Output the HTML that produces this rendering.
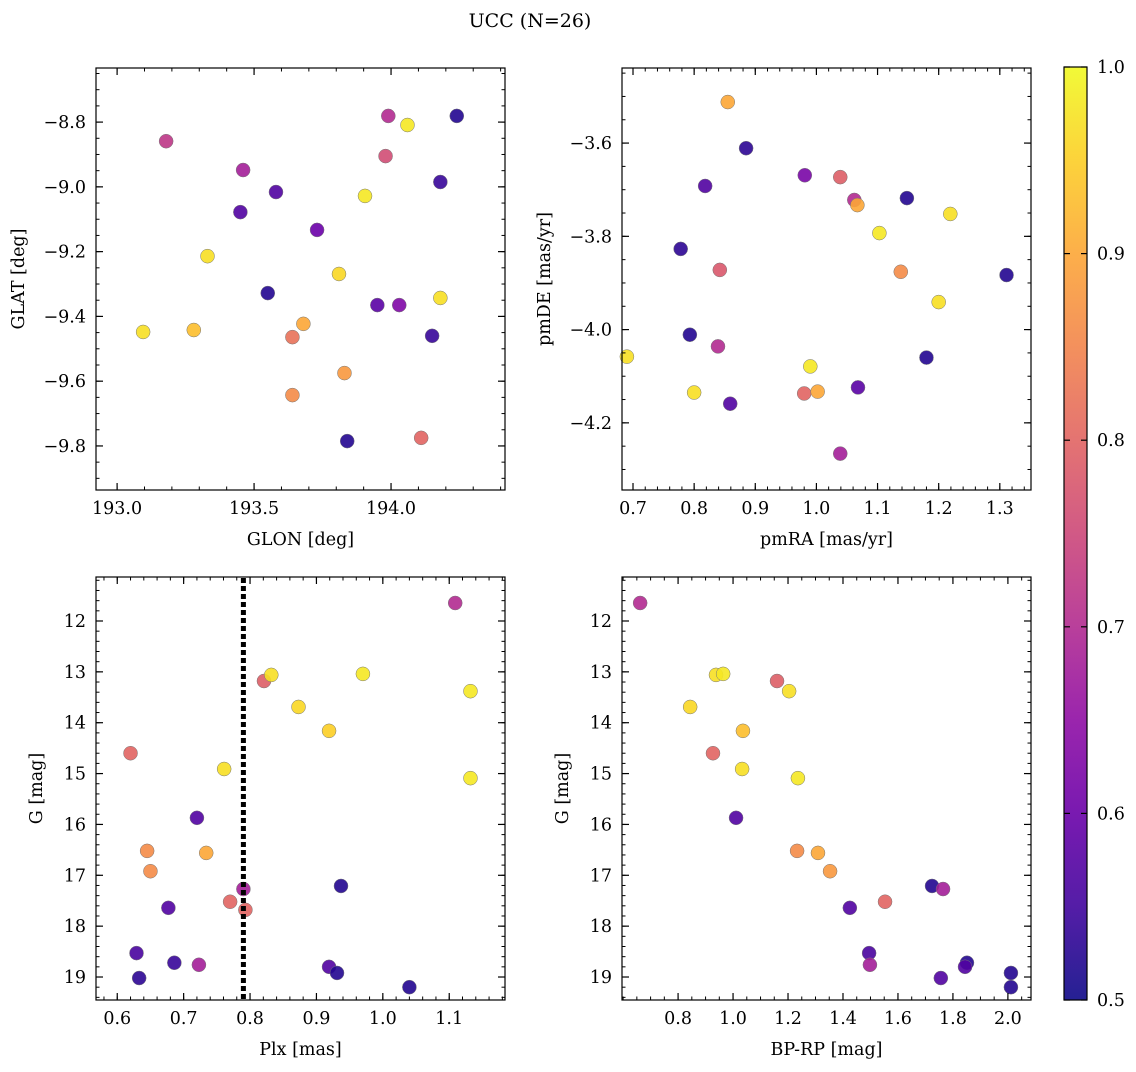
<!DOCTYPE html>
<html><head><meta charset="utf-8">
<style>
html,body{margin:0;padding:0;background:#fff;}
svg text{font-family:"DejaVu Serif","Liberation Serif",serif;fill:#000;}
</style></head>
<body>
<svg id="fig" width="1136" height="1067" viewBox="0 0 1136 1067" xmlns="http://www.w3.org/2000/svg">
<defs>
<linearGradient id="plasma" x1="0" y1="1" x2="0" y2="0">
<stop offset="0" stop-color="#cc4778"/>
</linearGradient>
</defs>
<text x="530" y="27" font-size="19" text-anchor="middle">UCC (N=26)</text>
</svg>
<script>
// ---- data: top-left (GLON vs GLAT)
const tlGlon=[193.179,193.46,193.58,193.45,193.33,193.095,193.28,193.55,193.73,193.68,193.64,193.64,193.81,193.83,193.84,193.905,193.95,194.03,193.99,193.98,194.06,194.11,194.18,194.18,194.15,194.24];
const tlGlat=[-8.859,-8.948,-9.016,-9.078,-9.214,-9.448,-9.442,-9.328,-9.133,-9.423,-9.464,-9.643,-9.269,-9.575,-9.785,-9.028,-9.365,-9.365,-8.781,-8.905,-8.809,-9.775,-8.985,-9.343,-9.46,-8.781];
const tlProb=[0.72,0.68,0.57,0.57,0.97,0.97,0.93,0.52,0.6,0.9,0.82,0.86,0.96,0.88,0.52,0.98,0.58,0.63,0.7,0.76,0.98,0.8,0.54,0.97,0.54,0.52];
// ---- top-right (pmRA vs pmDE)
const trPmra=[0.855,0.885,0.818,0.981,1.039,1.062,1.067,1.148,1.219,1.103,0.778,0.842,1.138,1.311,1.2,0.793,0.839,0.69,0.99,1.18,0.8,0.98,1.002,1.068,0.859,1.039];
const trPmde=[-3.512,-3.611,-3.692,-3.669,-3.673,-3.722,-3.733,-3.718,-3.752,-3.793,-3.827,-3.872,-3.876,-3.883,-3.941,-4.011,-4.036,-4.058,-4.079,-4.06,-4.135,-4.137,-4.133,-4.124,-4.159,-4.266];
const trProb=[0.9,0.53,0.57,0.62,0.79,0.7,0.9,0.52,0.97,0.98,0.53,0.78,0.86,0.52,0.97,0.52,0.7,0.97,0.98,0.52,0.97,0.8,0.9,0.58,0.57,0.68];
// ---- bottom-left (Plx vs G)
const blPlx=[1.109,0.821,0.832,0.970,1.132,0.873,0.919,0.761,1.132,0.620,0.72,0.645,0.734,0.65,0.79,0.937,0.77,0.793,0.677,0.629,0.633,0.686,0.723,0.919,0.931,1.04];
const blG=[11.646,13.18,13.06,13.04,13.38,13.69,14.16,14.91,15.09,14.6,15.87,16.52,16.56,16.92,17.27,17.21,17.52,17.68,17.64,18.53,19.02,18.72,18.76,18.8,18.92,19.2];
const blProb=[0.7,0.79,0.97,0.98,0.98,0.96,0.95,0.97,0.98,0.8,0.57,0.86,0.9,0.86,0.68,0.52,0.8,0.8,0.57,0.56,0.53,0.54,0.68,0.57,0.52,0.52];
const plxLine=0.79;
// ---- bottom-right (BP-RP vs G)
const brBprp=[0.662,0.938,0.964,1.16,1.204,0.844,1.036,0.927,1.033,1.236,1.011,1.233,1.309,1.353,1.724,1.764,1.553,1.425,1.495,1.498,1.756,1.851,1.844,2.011,2.011];
const brG=[11.646,13.06,13.04,13.18,13.38,13.69,14.16,14.6,14.91,15.09,15.87,16.52,16.56,16.92,17.21,17.27,17.52,17.64,18.53,18.76,19.02,18.72,18.8,18.92,19.2];
const brProb=[0.7,0.97,0.98,0.79,0.97,0.96,0.93,0.8,0.97,0.98,0.57,0.86,0.9,0.88,0.52,0.68,0.8,0.57,0.56,0.68,0.57,0.52,0.57,0.52,0.52];
// ---- tick labels
const tlXTicks=[193.0,193.5,194.0];
const tlYTicks=[-8.8,-9.0,-9.2,-9.4,-9.6,-9.8];
const trXTicks=[0.7,0.8,0.9,1.0,1.1,1.2,1.3];
const trYTicks=[-3.6,-3.8,-4.0,-4.2];
const blXTicks=[0.6,0.7,0.8,0.9,1.0,1.1];
const gTicks=[12,13,14,15,16,17,18,19];
const brXTicks=[0.8,1.0,1.2,1.4,1.6,1.8,2.0];
const cbTicks=[0.5,0.6,0.7,0.8,0.9,1.0];

const NS="http://www.w3.org/2000/svg";
const svg=document.getElementById('fig');
function mk(tag,attrs,parent){const e=document.createElementNS(NS,tag);for(const k in attrs)e.setAttribute(k,attrs[k]);(parent||svg).appendChild(e);return e;}
const plasma=[[13,8,135],[65,4,157],[106,0,168],[143,13,164],[177,42,144],[204,71,120],[225,100,98],[242,132,75],[252,166,54],[252,206,37],[240,249,33]];
function cmap(p){let t=Math.max(0,Math.min(1,(p-0.5)/0.5))*10;const i=Math.min(9,Math.floor(t)),f=t-i;const a=plasma[i],b=plasma[i+1];
 return 'rgb('+a.map((v,k)=>Math.round(v+(b[k]-v)*f)).join(',')+')';}
function fmt(v,d){let s=v.toFixed(d);return s.replace('-','\u2212');}

function panel(name,box,xd,yd,xt,yt,xdec,ydec,xminor,yminor,xs,ys,ps,xlabel,ylabel){
 const [L,T,R,B]=box;
 const g=mk('g',{});
 
 
 const sx=v=>L+(v-xd[0])/(xd[1]-xd[0])*(R-L);
 const sy=v=>T+(v-yd[0])/(yd[1]-yd[0])*(B-T);
 for(let i=0;i<xs.length;i++){
  const c=mk('circle',{cx:sx(xs[i]),cy:sy(ys[i]),r:7,fill:cmap(ps[i]),'fill-opacity':0.9,stroke:'#777','stroke-width':0.5},g);
  
  
 }
 const fr=mk('rect',{x:L,y:T,width:R-L,height:B-T,fill:'none',stroke:'#000','stroke-width':1.2},g);
 
 
 const lo=Math.min(xd[0],xd[1]),hi=Math.max(xd[0],xd[1]);
 for(let v=Math.ceil(lo/xminor-1e-6)*xminor;v<=hi+1e-9;v+=xminor){const x=sx(v);mk('line',{x1:x,x2:x,y1:B,y2:B-3.5,stroke:'#000','stroke-width':1},g);mk('line',{x1:x,x2:x,y1:T,y2:T+3.5,stroke:'#000','stroke-width':1},g);}
 const ylo=Math.min(yd[0],yd[1]),yhi=Math.max(yd[0],yd[1]);
 for(let v=Math.ceil(ylo/yminor-1e-6)*yminor;v<=yhi+1e-9;v+=yminor){const y=sy(v);mk('line',{x1:L,x2:L+3.5,y1:y,y2:y,stroke:'#000','stroke-width':1},g);mk('line',{x1:R,x2:R-3.5,y1:y,y2:y,stroke:'#000','stroke-width':1},g);}
 xt.forEach(v=>{const x=sx(v);mk('line',{x1:x,x2:x,y1:B,y2:B-7,stroke:'#000','stroke-width':1.2},g);mk('line',{x1:x,x2:x,y1:T,y2:T+7,stroke:'#000','stroke-width':1.2},g);
  const t=mk('text',{x:x,y:B+24,'font-size':17.5,'text-anchor':'middle'},g);t.textContent=fmt(v,xdec);
  
  });
 yt.forEach(v=>{const y=sy(v);mk('line',{x1:L,x2:L+7,y1:y,y2:y,stroke:'#000','stroke-width':1.2},g);mk('line',{x1:R,x2:R-7,y1:y,y2:y,stroke:'#000','stroke-width':1.2},g);
  const t=mk('text',{x:L-10,y:y+6,'font-size':17.5,'text-anchor':'end'},g);t.textContent=fmt(v,ydec);
  
  });
 const xl=mk('text',{x:(L+R)/2,y:B+55,'font-size':17.5,'text-anchor':'middle'},g);xl.textContent=xlabel;
 
 
 const yx=L-(ydec?72:54);
 const yl=mk('text',{x:yx,y:(T+B)/2,'font-size':17.5,'text-anchor':'middle',transform:'rotate(-90 '+yx+' '+(T+B)/2+')'},g);yl.textContent=ylabel;
 
 
 return {sx,sy,g};
}
panel('glon-glat-panel',[96,68,505,490],[192.923,194.416],[-8.633,-9.936],tlXTicks,tlYTicks,1,1,0.1,0.05,tlGlon,tlGlat,tlProb,'GLON [deg]','GLAT [deg]');
panel('pm-panel',[622,68,1031,490],[0.682,1.351],[-3.439,-4.344],trXTicks,trYTicks,1,1,0.02,0.05,trPmra,trPmde,trProb,'pmRA [mas/yr]','pmDE [mas/yr]');
const bl=panel('plx-g-panel',[96,577,505,1000],[0.568,1.184],[11.135,19.452],blXTicks,gTicks,1,0,0.02,0.2,blPlx,blG,blProb,'Plx [mas]','G [mag]');
const vl=mk('line',{x1:bl.sx(plxLine),x2:bl.sx(plxLine),y1:578,y2:999,stroke:'#000','stroke-width':5,'stroke-dasharray':'5,3'});


panel('cmd-panel',[622,577,1031,1000],[0.596,2.084],[11.135,19.452],brXTicks,gTicks,1,0,0.05,0.2,brBprp,brG,brProb,'BP-RP [mag]','G [mag]');

const grad=document.getElementById('plasma');
grad.innerHTML='';
for(let k=0;k<=10;k++){mk('stop',{offset:k/10,'stop-color':cmap(0.5+k*0.05),'stop-opacity':0.9},grad);}
const cbT=67,cbB=1000,cbL=1064,cbR=1087;
const cb=mk('rect',{x:cbL,y:cbT,width:cbR-cbL,height:cbB-cbT,fill:'url(#plasma)',stroke:'#000','stroke-width':1.2});


const cy=v=>cbB-(v-0.5)/0.5*(cbB-cbT);
cbTicks.forEach(v=>{mk('line',{x1:cbR,x2:cbR-6,y1:cy(v),y2:cy(v),stroke:'#000','stroke-width':1.2});mk('line',{x1:cbL,x2:cbL+6,y1:cy(v),y2:cy(v),stroke:'#000','stroke-width':1.2});
 const t=mk('text',{x:cbR+10,y:cy(v)+6,'font-size':17.5},svg);t.textContent=v.toFixed(1);
 
 });
</script>
</body></html>
